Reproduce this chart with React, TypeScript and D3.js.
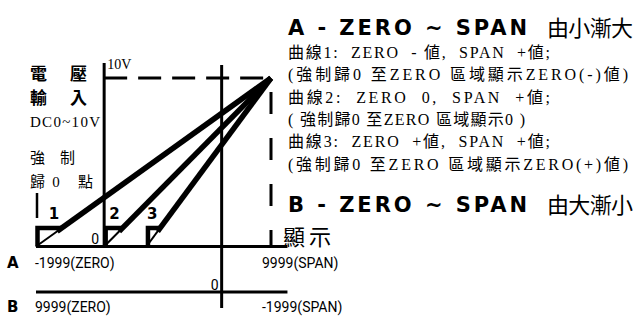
import React from "react";
import * as d3 from "d3";

// ---- data (schematic positions, % of ZERO..SPAN axis; volts on y) ----
const curveLabels = ["1", "2", "3"];
const curveZeroPos = [0, 29, 47]; // where ZERO sits on the A axis
const spanPos = 100; // SPAN position
const spanVolt = 10;
const clampVolt = 1.1; // forced-zero region height
const axisZeroPos = 29; // 0V axis (A zero)
const bZeroPos = 79; // B axis zero
const axisEndPos = 107;

const aTicks = ["-1999(ZERO)", "9999(SPAN)"];
const bTicks = ["9999(ZERO)", "-1999(SPAN)"];

const leftLabels = ["電 壓", "輸 入", "DC0~10V", "強 制", "歸0 點"];
const rightLines = [
  "曲線1:  ZERO  - 値,  SPAN  +値;",
  "(強制歸0 至ZERO 區域顯示ZERO(-)値)",
  "曲線2:  ZERO  0,  SPAN  +値;",
  "( 強制歸0 至ZERO 區域顯示0 )",
  "曲線3:  ZERO  +値,  SPAN  +値;",
  "(強制歸0 至ZERO 區域顯示ZERO(+)値)",
];
const rightWidths = [262, 340, 262, 237, 262, 340];

const W = 636;
const H = 320;

const SERIF = "'Liberation Serif', 'Noto Sans CJK TC', serif";
const CJK = "'Noto Sans CJK TC', 'Liberation Serif', serif";
const SANS = "Roboto, 'Liberation Sans', sans-serif";
const BOLD = "'DejaVu Sans', 'Liberation Sans', sans-serif";

export default function App() {
  const x = d3.scaleLinear().domain([0, 100]).range([36, 271]);
  const y = d3.scaleLinear().domain([0, 10]).range([246.5, 78]);
  const line = d3
    .line<[number, number]>()
    .x((d) => x(d[0]))
    .y((d) => y(d[1]));

  const y0 = y(0);
  const yTop = y(spanVolt);
  const xAxis = x(axisZeroPos);
  const xSpan = x(spanPos);
  const xB = x(bZeroPos);
  const yB = 292;

  return (
    <svg
      width={W}
      height={H}
      style={{ position: "absolute", left: 0, top: 0, background: "#fff" }}
    >
      <rect width={W} height={H} fill="#fff" />

      {/* A baseline */}
      <line x1={x(0)} x2={x(axisEndPos)} y1={y0} y2={y0} stroke="#000" strokeWidth={3} />
      {/* B baseline */}
      <line x1={x(0)} x2={x(axisEndPos)} y1={yB} y2={yB} stroke="#000" strokeWidth={3} />
      {/* voltage axis */}
      <line x1={xAxis} x2={xAxis} y1={y0} y2={yTop - 15} stroke="#000" strokeWidth={3} />
      {/* B zero vertical */}
      <line x1={xB} x2={xB} y1={yTop - 13} y2={yB + 16} stroke="#000" strokeWidth={3} />
      {/* dashed 10V */}
      <line
        x1={xAxis}
        x2={xSpan + 1}
        y1={yTop}
        y2={yTop}
        stroke="#000"
        strokeWidth={3}
        strokeDasharray="23 11"
      />
      {/* dashed SPAN */}
      <line
        x1={xSpan}
        x2={xSpan}
        y1={yTop}
        y2={y0}
        stroke="#000"
        strokeWidth={3}
        strokeDasharray="0 14 22 10"
      />
      {/* small tick left */}
      <line x1={x(0) + 1} x2={x(0) + 1} y1={193} y2={218} stroke="#000" strokeWidth={2.5} />

      {/* curves */}
      {curveZeroPos.map((z, i) => {
        const t = clampVolt / spanVolt;
        const cx = z + (spanPos - z) * t;
        const sq = `M${x(z) + 1.5},${y0} L${x(z) + 1.5},${y(clampVolt)} L${x(cx)},${y(clampVolt)}`;
        return (
          <g key={i}>
            <path d={sq} fill="none" stroke="#000" strokeWidth={4.5} />
            <path
              d={line([
                [z, 0],
                [cx, clampVolt],
              ]) as string}
              fill="none"
              stroke="#000"
              strokeWidth={2}
            />
            <path
              d={line([
                [cx - (spanPos - z) * 0.02, clampVolt - 0.2],
                [spanPos, spanVolt],
              ]) as string}
              fill="none"
              stroke="#000"
              strokeWidth={5.5}
            />
            <text
              x={x(cx) - 8}
              y={219}
              fontFamily={BOLD}
              fontWeight="bold"
              fontSize={15}
              textAnchor="middle"
            >
              {curveLabels[i]}
            </text>
          </g>
        );
      })}

      {/* axis labels */}
      <text x={xAxis + 3} y={69} fontFamily={SERIF} fontSize={14}>
        10V
      </text>
      <text x={xAxis - 5} y={244} fontFamily={SANS} fontSize={14} textAnchor="end">
        0
      </text>
      <text x={xB - 3} y={290} fontFamily={SANS} fontSize={14} textAnchor="end">
        0
      </text>

      <text x={7} y={268} fontFamily={BOLD} fontWeight="bold" fontSize={15}>
        A
      </text>
      <text x={x(0) - 1} y={268} fontFamily={SANS} fontSize={14}>
        {aTicks[0]}
      </text>
      <text x={xSpan - 9} y={268} fontFamily={SANS} fontSize={14}>
        {aTicks[1]}
      </text>
      <text x={7} y={312} fontFamily={BOLD} fontWeight="bold" fontSize={15}>
        B
      </text>
      <text x={x(0) - 1} y={312} fontFamily={SANS} fontSize={14}>
        {bTicks[0]}
      </text>
      <text x={xSpan - 9} y={312} fontFamily={SANS} fontSize={14}>
        {bTicks[1]}
      </text>

      {/* left labels */}
      <text x={30} y={80} fontFamily={CJK} fontSize={17} fontWeight="bold" textLength={57}>
        {leftLabels[0]}
      </text>
      <text x={30} y={104} fontFamily={CJK} fontSize={17} fontWeight="bold" textLength={57}>
        {leftLabels[1]}
      </text>
      <text x={30} y={127} fontFamily={SERIF} fontSize={15} textLength={70}>
        {leftLabels[2]}
      </text>
      <text x={30} y={163} fontFamily={CJK} fontSize={15} textLength={45}>
        {leftLabels[3]}
      </text>
      <text x={30} y={187} fontFamily={SERIF} fontSize={15} textLength={63}>
        {leftLabels[4]}
      </text>

      {/* right block */}
      <text x={288} y={35} fontFamily={BOLD} fontWeight="bold" fontSize={21} textLength={239}>
        A - ZERO ~ SPAN
      </text>
      <text x={547} y={36} fontFamily={CJK} fontSize={22} textLength={86}>
        由小漸大
      </text>
      {rightLines.map((s, i) => (
        <text
          key={i}
          x={288}
          y={58 + i * 22.3}
          fontFamily={SERIF}
          fontSize={16}
          textLength={rightWidths[i]}
          style={{ whiteSpace: "pre" }}
        >
          {s}
        </text>
      ))}
      <text x={288} y={212} fontFamily={BOLD} fontWeight="bold" fontSize={21} textLength={239}>
        B - ZERO ~ SPAN
      </text>
      <text x={547} y={213} fontFamily={CJK} fontSize={22} textLength={86}>
        由大漸小
      </text>
      <text x={283} y={245} fontFamily={CJK} fontSize={22} textLength={48} style={{ whiteSpace: "pre" }}>
        顯 示
      </text>
    </svg>
  );
}
